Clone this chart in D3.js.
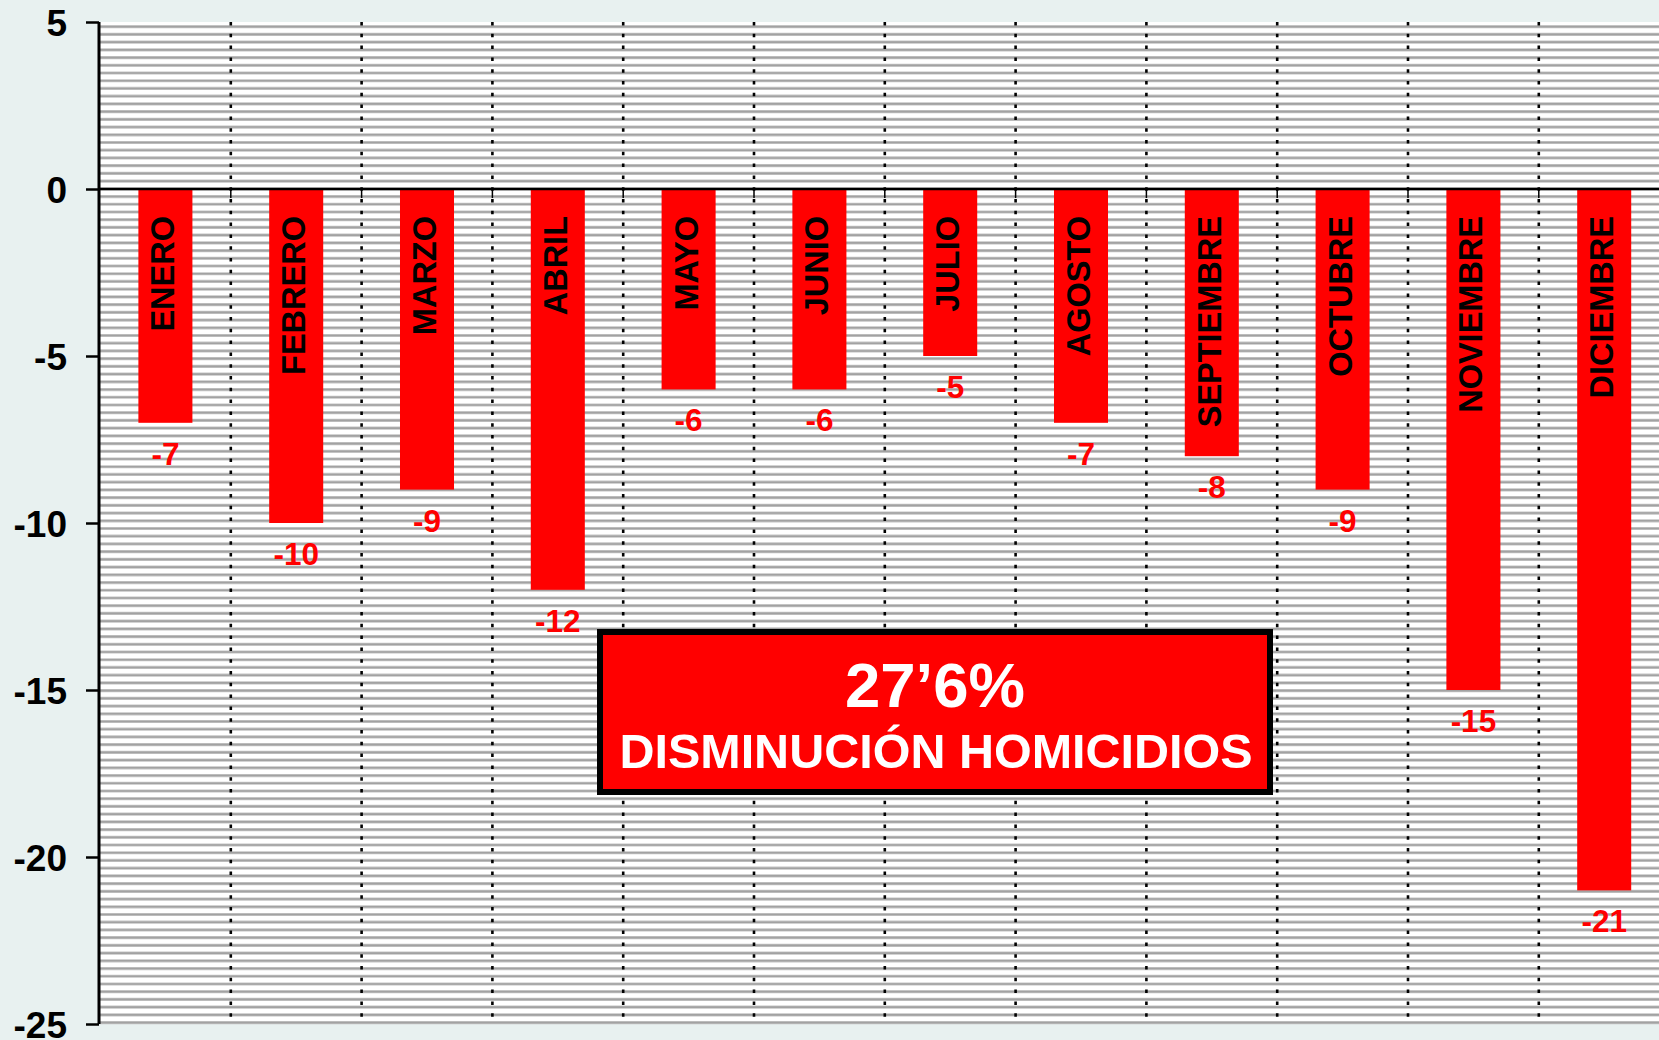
<!DOCTYPE html>
<html lang="es">
<head>
<meta charset="UTF-8">
<title>Disminución homicidios</title>
<script src="https://d3js.org/d3.v7.min.js"></script>
<style>
  body { margin: 0; background: #e8f1f0; }
  svg { display: block; font-family: "Liberation Sans", Arial, sans-serif; font-weight: bold; }
  .axis path { display: none; }
  .axis line { stroke: #000; stroke-width: 2.5; }
  .axis text { font-size: 37px; fill: #000; font-weight: bold; }
</style>
</head>
<body>
<svg width="1659" height="1040"></svg>
<script>
// chart data
const months = ["ENERO", "FEBRERO", "MARZO", "ABRIL", "MAYO", "JUNIO", "JULIO",
  "AGOSTO", "SEPTIEMBRE", "OCTUBRE", "NOVIEMBRE", "DICIEMBRE"];
const values = [-7, -10, -9, -12, -6, -6, -5, -7, -8, -9, -15, -21];
const yTicks = [5, 0, -5, -10, -15, -20, -25];
const summaryPct = "27’6%";
const summaryText = "DISMINUCIÓN HOMICIDIOS";

const svg = d3.select("svg");
const plot = { left: 100, right: 1669.6, top: 22, bottom: 1024 };
const pad = 0.587;

const x = d3.scaleBand()
  .domain(months)
  .range([plot.left, plot.right])
  .paddingInner(pad)
  .paddingOuter(pad / 2);

const y = d3.scaleLinear()
  .domain([-25, 5])
  .range([plot.bottom, plot.top]);

// white plot area with the striped horizontal pattern
svg.append("rect")
  .attr("x", plot.left).attr("y", plot.top)
  .attr("width", plot.right - plot.left)
  .attr("height", plot.bottom - plot.top)
  .attr("fill", "#fff");

const stripes = d3.range(26.7, plot.bottom, 7.72);
const sg = svg.append("g");
sg.selectAll("line.s1").data(stripes).enter().append("line")
  .attr("x1", plot.left).attr("x2", plot.right)
  .attr("y1", d => d).attr("y2", d => d)
  .attr("stroke", "#c4c4c4").attr("stroke-width", 3.2);
sg.selectAll("line.s2").data(stripes).enter().append("line")
  .attr("x1", plot.left).attr("x2", plot.right)
  .attr("y1", d => d).attr("y2", d => d)
  .attr("stroke", "#a2a2a2").attr("stroke-width", 1.6);

// dotted category separators
const step = x.step();
const bounds = months.slice(1).map(m => x(m) - step * pad / 2);
svg.append("g").selectAll("line").data(bounds).enter().append("line")
  .attr("x1", d => d).attr("x2", d => d)
  .attr("y1", plot.top).attr("y2", plot.bottom)
  .attr("stroke", "#000").attr("stroke-width", 2.6)
  .attr("stroke-dasharray", "3.5,8.3");

// small category ticks under the zero line
svg.append("g").selectAll("line").data(bounds).enter().append("line")
  .attr("x1", d => d).attr("x2", d => d)
  .attr("y1", y(0)).attr("y2", y(0) + 9)
  .attr("stroke", "#000").attr("stroke-width", 1.5);

// bars
svg.append("g").selectAll("rect").data(values).enter().append("rect")
  .attr("x", (d, i) => x(months[i]))
  .attr("y", y(0))
  .attr("width", x.bandwidth())
  .attr("height", d => y(d) - y(0))
  .attr("fill", "#ff0000");

// zero line
svg.append("line")
  .attr("x1", plot.left).attr("x2", plot.right)
  .attr("y1", y(0)).attr("y2", y(0))
  .attr("stroke", "#000").attr("stroke-width", 2.5);

// month names inside bars
svg.append("g").selectAll("text").data(months).enter().append("text")
  .attr("transform", d => `translate(${x(d) + x.bandwidth() / 2 + 9},${y(0) + 27}) rotate(-90)`)
  .attr("text-anchor", "end")
  .attr("font-size", 32.5)
  .attr("fill", "#000")
  .text(d => d);

// value labels
svg.append("g").selectAll("text").data(values).enter().append("text")
  .attr("x", (d, i) => x(months[i]) + x.bandwidth() / 2)
  .attr("y", d => y(d) + 42)
  .attr("text-anchor", "middle")
  .attr("font-size", 31.5)
  .attr("fill", "#ff0000")
  .text(d => d);

// y axis (plain hyphen for negatives, as in the original)
const yAxis = svg.append("g")
  .attr("class", "axis")
  .attr("transform", `translate(${plot.left - 1},0)`)
  .call(d3.axisLeft(y).tickValues(yTicks).tickFormat(d => String(d)).tickSize(13).tickPadding(19));
yAxis.selectAll("text").attr("dy", "0.36em");
svg.append("line")
  .attr("x1", plot.left - 1).attr("x2", plot.left - 1)
  .attr("y1", plot.top).attr("y2", plot.bottom)
  .attr("stroke", "#000").attr("stroke-width", 3);

// summary box
const box = svg.append("g");
box.append("rect")
  .attr("x", 600).attr("y", 632)
  .attr("width", 670).attr("height", 160)
  .attr("fill", "#ff0000")
  .attr("stroke", "#000").attr("stroke-width", 6);
box.append("text")
  .attr("x", 935).attr("y", 707)
  .attr("text-anchor", "middle")
  .attr("font-size", 63.5)
  .attr("fill", "#fff")
  .text(summaryPct);
box.append("text")
  .attr("x", 936).attr("y", 768)
  .attr("text-anchor", "middle")
  .attr("font-size", 48.5)
  .attr("fill", "#fff")
  .text(summaryText);
</script>
</body>
</html>
